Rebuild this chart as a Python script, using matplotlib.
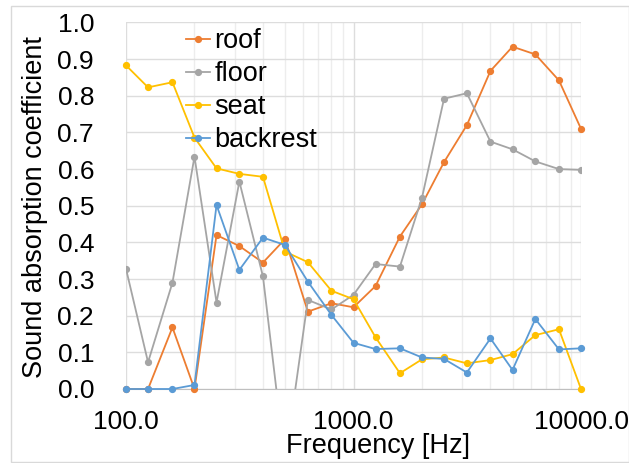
import matplotlib
matplotlib.use("Agg")
import matplotlib.pyplot as plt
from matplotlib.ticker import FixedLocator, NullFormatter, FuncFormatter
from matplotlib.patches import Rectangle

plt.rcParams['font.family'] = ['Liberation Sans', 'DejaVu Sans']

freq = [100, 125, 160, 200, 250, 315, 400, 500, 630, 800, 1000,
        1250, 1600, 2000, 2500, 3150, 4000, 5000, 6300, 8000, 10000]

roof = [0.0, 0.0, 0.168, 0.0, 0.420, 0.390, 0.345, 0.409, 0.211, 0.234, 0.223,
        0.281, 0.416, 0.504, 0.619, 0.720, 0.868, 0.934, 0.913, 0.842, 0.710]
floor = [0.328, 0.073, 0.290, 0.634, 0.236, 0.566, 0.307, -0.20, 0.243, 0.217, 0.257,
         0.341, 0.334, 0.522, 0.792, 0.807, 0.675, 0.654, 0.621, 0.600, 0.598]
seat = [0.883, 0.823, 0.837, 0.686, 0.602, 0.587, 0.579, 0.375, 0.346, 0.268, 0.245,
        0.141, 0.043, 0.081, 0.086, 0.070, 0.079, 0.095, 0.147, 0.163, 0.0]
backrest = [0.0, 0.0, 0.0, 0.011, 0.502, 0.325, 0.413, 0.393, 0.293, 0.202, 0.126,
            0.109, 0.111, 0.086, 0.082, 0.045, 0.138, 0.052, 0.191, 0.108, 0.111]

series = [("roof", roof, "#ED7D31", False),
          ("floor", floor, "#A5A5A5", True),
          ("seat", seat, "#FFC000", False),
          ("backrest", backrest, "#5B9BD5", False)]

W, H = 629, 463
fig = plt.figure(figsize=(W / 100, H / 100), dpi=100)
ax = fig.add_axes([126 / W, (H - 389) / H, (581 - 126) / W, (389 - 22.5) / H])

for name, vals, col, clip in series:
    ax.plot(freq, vals, color=col, lw=1.3, marker="o", ms=4.2,
            label=name, clip_on=clip, zorder=3)

ax.set_xscale("log")
ax.set_xlim(100, 10000)
ax.set_ylim(0, 1.0)
ax.set_yticks([i / 10 for i in range(11)])
ax.yaxis.set_major_formatter(FuncFormatter(lambda v, p: f"{v:.1f}"))
ax.xaxis.set_major_locator(FixedLocator([100, 1000, 10000]))
ax.xaxis.set_major_formatter(FuncFormatter(lambda v, p: f"{v:.1f}"))
minors = [m * d for d in (100, 1000) for m in range(2, 10)]
ax.xaxis.set_minor_locator(FixedLocator(minors))
ax.xaxis.set_minor_formatter(NullFormatter())

ax.grid(True, which="major", color="#DDDDDD", lw=1.0, zorder=0)
ax.grid(True, which="minor", axis="x", color="#EDEDED", lw=1.0, zorder=0)
ax.set_axisbelow(True)
for s in ["top", "right", "left"]:
    ax.spines[s].set_visible(False)
ax.spines["bottom"].set_color("#BFBFBF")
ax.tick_params(axis="both", which="both", length=0, labelsize=19, colors="#000000")
ax.tick_params(axis="y", pad=23)
ax.tick_params(axis="x", pad=15)

ax.set_xlabel("Frequency [Hz]", fontsize=19.5)
ax.xaxis.set_label_coords((378 - 126) / 455, (389 - 433) / 366.5)
ax.set_ylabel("Sound absorption coefficient", fontsize=19.5)
ax.yaxis.set_label_coords((48 - 126) / 455, (389 - 207) / 366.5)

ax.legend(loc="upper left", bbox_to_anchor=(186 / W, (H - 28) / H),
          bbox_transform=fig.transFigure, frameon=False, fontsize=19.5,
          handlelength=0.9, handletextpad=0.15, labelspacing=0.26,
          borderpad=0, borderaxespad=0)

fig.patches.append(Rectangle((11 / W, 1 / H), (W - 11) / W, (H - 7) / H,
                             transform=fig.transFigure, fill=False,
                             edgecolor="#D9D9D9", lw=1.0))

fig.savefig("out.png", dpi=100)
